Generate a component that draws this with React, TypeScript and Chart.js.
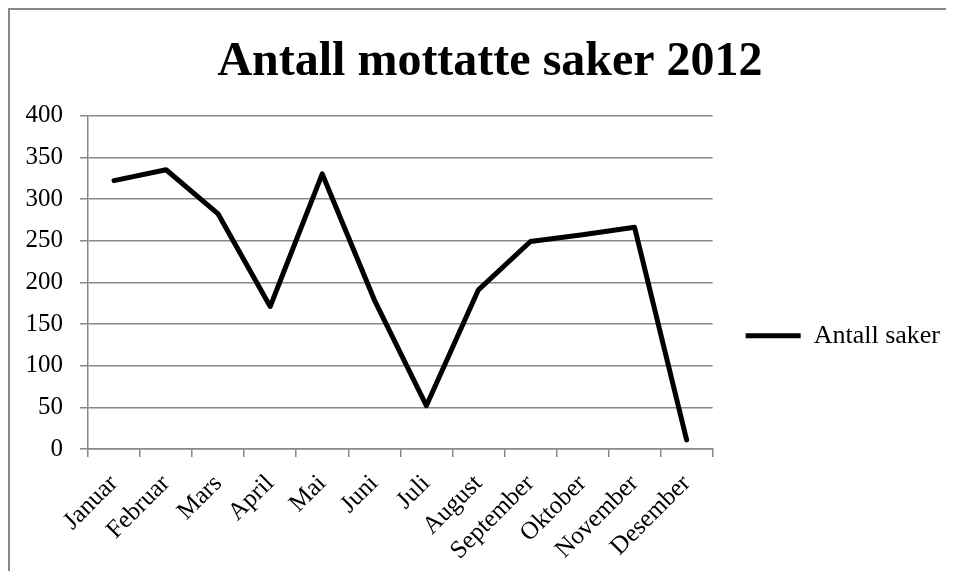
import React, { useEffect, useRef } from "react";
import { Chart, registerables } from "chart.js";

Chart.register(...registerables);

const title = "Antall mottatte saker 2012";
const seriesName = "Antall saker";
const months = [
  "Januar", "Februar", "Mars", "April", "Mai", "Juni",
  "Juli", "August", "September", "Oktober", "November", "Desember",
];
const cases = [322, 335, 282, 171, 330, 179, 52, 191, 249, 257, 266, 11];
const yMin = 0;
const yMax = 400;
const yStep = 50;

const FONT = "'Liberation Serif', 'Times New Roman', Times, serif";
const GRID = "#888888";

// lets the y tick labels draw left of the axis box without being clipped
const unclipYLabels = {
  id: "unclipYLabels",
  beforeDraw(c: any) {
    if (c.scales && c.scales.y) c.scales.y.left = 0;
  },
};

export default function App() {
  const ref = useRef<HTMLCanvasElement | null>(null);

  useEffect(() => {
    if (!ref.current) return;
    const chart = new Chart(ref.current, {
      type: "line",
      data: {
        labels: months,
        datasets: [
          {
            label: seriesName,
            data: cases,
            borderColor: "#000000",
            backgroundColor: "#000000",
            borderWidth: 5,
            pointRadius: 0,
            tension: 0,
            fill: false,
            borderJoinStyle: "round",
            borderCapStyle: "round",
          },
        ],
      },
      plugins: [unclipYLabels],
      options: {
        responsive: false,
        animation: false,
        layout: { padding: { left: 20, right: 4, top: 0, bottom: 0 } },
        plugins: {
          title: {
            display: true,
            text: title,
            color: "#000000",
            font: { family: FONT, size: 48, weight: "bold" },
            padding: { top: 24, bottom: 24 },
          },
          legend: {
            display: true,
            position: "right",
            title: {
              display: true,
              text: "",
              font: { size: 12 },
              padding: { top: 0, bottom: 76 },
            },
            labels: {
              color: "#000000",
              font: { family: FONT, size: 26 },
              boxWidth: 55,
              boxHeight: 5,
              padding: 17,
              generateLabels: (c: any) =>
                Chart.defaults.plugins.legend.labels
                  .generateLabels(c)
                  .map((it: any) => ({ ...it, lineWidth: 0, fillStyle: "#000000" })),
            },
          },
          tooltip: { enabled: false },
        },
        scales: {
          x: {
            type: "category",
            offset: true,
            grid: {
              display: true,
              drawOnChartArea: false,
              drawTicks: true,
              tickLength: 8,
              offset: true,
              color: GRID,
              lineWidth: 1.5,
            },
            border: { display: true, color: GRID, width: 1.5 },
            ticks: {
              color: "#000000",
              font: { family: FONT, size: 25 },
              minRotation: 45,
              maxRotation: 45,
              autoSkip: false,
              padding: 12,
            },
            afterFit: (s: any) => {
              s.height = 122;
            },
          },
          y: {
            min: yMin,
            max: yMax,
            grid: {
              color: GRID,
              lineWidth: 1.5,
              drawTicks: true,
              tickLength: 8,
            },
            border: { display: true, color: GRID, width: 1.5 },
            ticks: {
              stepSize: yStep,
              color: "#000000",
              font: { family: FONT, size: 25 },
              padding: 17,
            },
            afterFit: (s: any) => {
              s.width = 58;
            },
          },
          y2: {
            position: "right",
            display: false,
            afterFit: (s: any) => {
              s.width = 16;
            },
          },
        },
      } as any,
    });
    return () => chart.destroy();
  }, []);

  return (
    <div
      style={{
        width: 938,
        height: 563,
        boxSizing: "border-box",
        borderTop: "2px solid #878787",
        borderLeft: "2px solid #878787",
        overflow: "hidden",
        background: "#ffffff",
      }}
    >
      <canvas ref={ref} width={944} height={561} style={{ display: "block" }} />
    </div>
  );
}
